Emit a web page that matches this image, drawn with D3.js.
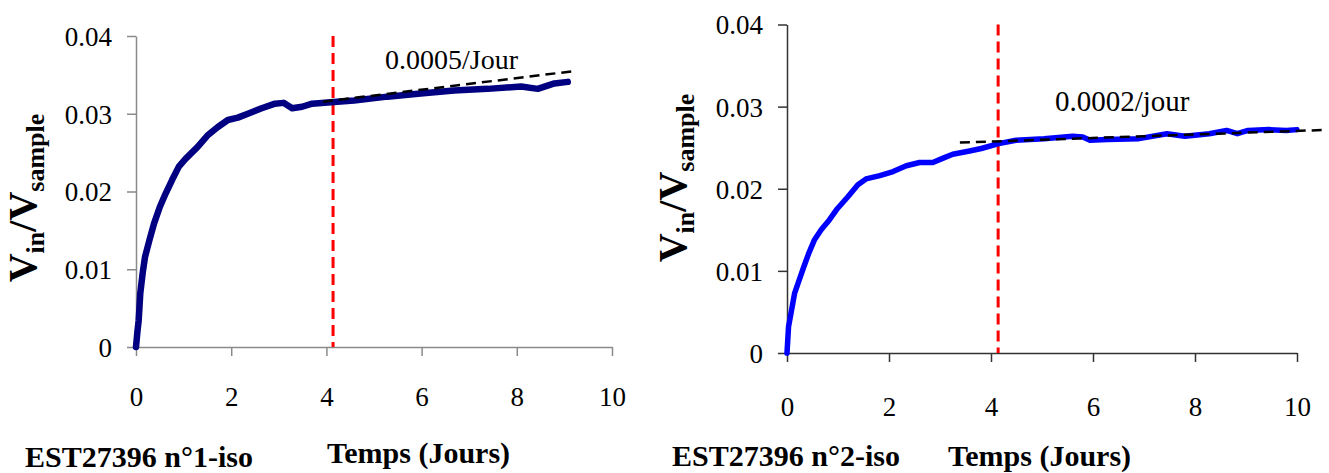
<!DOCTYPE html>
<html><head><meta charset="utf-8">
<script src="https://cdn.jsdelivr.net/npm/d3@7"></script>
<style>
html,body{margin:0;padding:0;background:#fff;}
svg{display:block;}
svg text{font-family:"Liberation Serif","Times New Roman",Times,"DejaVu Serif",serif !important;}
</style></head>
<body>
<svg id="chart" width="1329" height="473"></svg>
<script>
// ---------- data ----------
const xTicks = [0, 2, 4, 6, 8, 10];
const yTicks = [0, 0.01, 0.02, 0.03, 0.04];
const yTickLabels = ["0", "0.01", "0.02", "0.03", "0.04"];

const leftX = [0, 0.03, 0.056, 0.09, 0.14, 0.19, 0.28, 0.38, 0.50, 0.62, 0.76, 0.90, 1.04, 1.29, 1.50, 1.72, 1.93, 2.14, 2.35, 2.64, 2.92, 3.10, 3.28, 3.49, 3.70, 4.16, 4.58, 5.28, 5.98, 6.68, 7.39, 8.09, 8.44, 8.79, 9.07];
const leftY = [0, 0.0020, 0.0034, 0.0069, 0.0095, 0.0116, 0.0137, 0.0159, 0.0180, 0.0197, 0.0215, 0.0232, 0.0242, 0.0257, 0.0272, 0.0283, 0.0292, 0.0295, 0.0300, 0.0307, 0.0313, 0.0314, 0.0307, 0.0309, 0.0313, 0.0315, 0.0317, 0.0322, 0.0326, 0.0330, 0.0332, 0.0335, 0.0332, 0.0339, 0.0341];

const rightX = [0, 0.03, 0.08, 0.15, 0.24, 0.33, 0.43, 0.54, 0.67, 0.83, 0.99, 1.19, 1.39, 1.55, 1.82, 2.08, 2.34, 2.60, 2.86, 3.05, 3.25, 3.58, 3.81, 4.15, 4.49, 5.04, 5.60, 5.80, 5.94, 6.28, 6.90, 7.45, 7.80, 8.28, 8.62, 8.83, 9.04, 9.45, 9.79, 10.0];
const rightY = [0, 0.0032, 0.0049, 0.0073, 0.0089, 0.0105, 0.0122, 0.0138, 0.0150, 0.0162, 0.0176, 0.0190, 0.0205, 0.0212, 0.0216, 0.0221, 0.0228, 0.0232, 0.0232, 0.0237, 0.0242, 0.0246, 0.0249, 0.0255, 0.0259, 0.0261, 0.0264, 0.0263, 0.0259, 0.0260, 0.0261, 0.0267, 0.0264, 0.0267, 0.0271, 0.0267, 0.0271, 0.0272, 0.0271, 0.0272];

const leftTrendX = [3.93, 9.22];
const leftTrendY = [0.03155, 0.0355];
const rightTrendX = [3.39, 10.5];
const rightTrendY = [0.02562, 0.02715];

const markerDay = [4.14, 4.14];
const slopeLabels = ["0.0005/Jour", "0.0002/jour"];
const sampleLabels = ["EST27396 n°1-iso", "EST27396 n°2-iso"];
const xTitle = "Temps (Jours)";

// ---------- layout ----------
const panels = [
  {xs: leftX, ys: leftY, tx: leftTrendX, ty: leftTrendY, mark: markerDay[0],
   slope: slopeLabels[0], sample: sampleLabels[0],
   x0: 136, x1: 612, y0: 347, y1: 36, color: "#000080", lw: 6.5, axisColor: "#8a8a8a",
   tickLabelBase: 406, slopeX: 385, slopeY: 69, slopeSize: 28,
   sampleX: 25, sampleY: 467, titleX: 327, titleY: 463,
   yTitleX: 36, yTitleY: 198},
  {xs: rightX, ys: rightY, tx: rightTrendX, ty: rightTrendY, mark: markerDay[1],
   slope: slopeLabels[1], sample: sampleLabels[1],
   x0: 787, x1: 1297, y0: 353, y1: 24.5, color: "#0000ff", lw: 5.5, axisColor: "#333",
   tickLabelBase: 416, slopeX: 1055, slopeY: 111, slopeSize: 29,
   sampleX: 672, sampleY: 466, titleX: 948, titleY: 466,
   yTitleX: 686, yTitleY: 178}
];

const svg = d3.select("#chart");
const SERIF = '"Liberation Serif","Times New Roman",Times,"DejaVu Serif",serif';

panels.forEach(p => {
  const x = d3.scaleLinear().domain([0, 10]).range([p.x0, p.x1]);
  const y = d3.scaleLinear().domain([0, 0.04]).range([p.y0, p.y1]);
  const g = svg.append("g").style("font-family", SERIF);

  // axes
  const ax = g.append("g").attr("transform", `translate(0,${p.y0})`)
    .call(d3.axisBottom(x).tickValues(xTicks).tickFormat(d3.format("d")).tickSizeInner(9).tickSizeOuter(0).tickPadding(0));
  const ay = g.append("g").attr("transform", `translate(${p.x0},0)`)
    .call(d3.axisLeft(y).tickValues(yTicks).tickFormat((d, i) => yTickLabels[i]).tickSizeInner(9).tickSizeOuter(0).tickPadding(15));
  [ax, ay].forEach(a => {
    a.attr("font-family", null).style("font-family", SERIF);
    a.selectAll("path,line").attr("stroke", p.axisColor).attr("stroke-width", 1.5);
    a.selectAll("text").style("font-family", SERIF).attr("font-size", 27).attr("fill", "#000");
  });
  ax.selectAll("text").attr("y", p.tickLabelBase - p.y0).attr("dy", null);
  ay.selectAll("text").attr("dy", "0.35em");

  // red vertical dashed
  g.append("line")
    .attr("x1", x(p.mark)).attr("x2", x(p.mark))
    .attr("y1", y(0.04)).attr("y2", y(0))
    .attr("stroke", "#ff0000").attr("stroke-width", 3).attr("stroke-dasharray", "11,6");

  // curve
  const pts = p.xs.map((d, i) => [d, p.ys[i]]);
  g.append("path").datum(pts)
    .attr("d", d3.line().x(d => x(d[0])).y(d => y(d[1])))
    .attr("fill", "none").attr("stroke", p.color).attr("stroke-width", p.lw)
    .attr("stroke-linejoin", "round").attr("stroke-linecap", "round");

  // trend dashed
  const tp = p.tx.map((d, i) => [d, p.ty[i]]);
  g.append("path").datum(tp)
    .attr("d", d3.line().x(d => x(d[0])).y(d => y(d[1])))
    .attr("fill", "none").attr("stroke", "#000").attr("stroke-width", 2.5)
    .attr("stroke-dasharray", "10,6");

  // slope label
  g.append("text").attr("x", p.slopeX).attr("y", p.slopeY)
    .style("font-family", SERIF).attr("font-size", p.slopeSize).text(p.slope);

  // bottom labels
  g.append("text").attr("x", p.sampleX).attr("y", p.sampleY)
    .style("font-family", SERIF).attr("font-size", 30).attr("font-weight", "bold").text(p.sample);
  g.append("text").attr("x", p.titleX).attr("y", p.titleY)
    .style("font-family", SERIF).attr("font-size", 30).attr("font-weight", "bold").text(xTitle);

  // y title
  const t = g.append("text")
    .attr("transform", `translate(${p.yTitleX},${p.yTitleY}) rotate(-90)`)
    .style("font-family", SERIF)
    .attr("text-anchor", "middle").attr("font-weight", "bold").attr("font-size", 40);
  t.append("tspan").text("V");
  t.append("tspan").attr("font-size", 26).attr("dy", 8).text("in");
  t.append("tspan").attr("dy", -8).text("/V");
  t.append("tspan").attr("font-size", 26).attr("dy", 8).text("sample");
});
</script>
</body></html>
